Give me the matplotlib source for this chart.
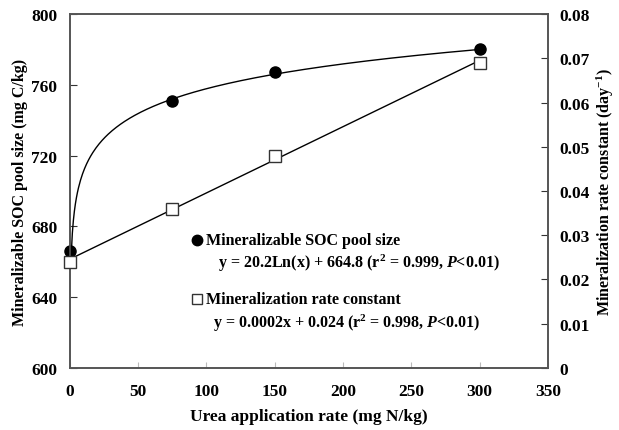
import matplotlib
import matplotlib.pyplot as plt
import numpy as np

matplotlib.use("Agg")

plt.rcParams["font.family"] = ["Liberation Serif", "DejaVu Serif"]
plt.rcParams["font.weight"] = "bold"
plt.rcParams["mathtext.fontset"] = "custom"
plt.rcParams["mathtext.rm"] = "Liberation Serif:bold"
plt.rcParams["mathtext.it"] = "Liberation Serif:italic:bold"
plt.rcParams["mathtext.bf"] = "Liberation Serif:bold"

urea = [0, 75, 150, 300]
soc_pool = [666, 751, 767, 780]
rate_const = [0.024, 0.036, 0.048, 0.069]

# fit coefficients as printed on the chart
log_a, log_b = 20.2, 664.8

fig = plt.figure(figsize=(6.19, 4.31), dpi=100)
ax1 = fig.add_axes([0.113, 0.144, 0.772, 0.821])
ax2 = ax1.twinx()

xs = np.linspace(1, max(urea), 400)
ax1.plot(xs, log_a * np.log(xs) + log_b, "-", color="black", lw=1)
ax1.plot(urea, soc_pool, "o", color="black", ms=8, zorder=5, clip_on=False)

k, c = np.polyfit(urea, rate_const, 1)
xl = np.array([urea[0], urea[-1]])
ax2.plot(xl, k * xl + c, "-", color="black", lw=1)
ax2.plot(urea, rate_const, "s", mfc="white", mec="#333333", mew=1, ms=8, zorder=5, clip_on=False)

ax1.set_xlim(0, 350)
ax1.set_ylim(600, 800)
ax2.set_ylim(0, 0.08)
ax1.set_xticks(np.arange(0, 351, 50))
ax1.set_yticks(np.arange(600, 801, 40))
ax2.set_yticks(np.arange(0, 0.081, 0.01))
ax2.set_yticklabels(["0"] + [f"{v:.2f}" for v in np.arange(0.01, 0.081, 0.01)])

for ax in (ax1, ax2):
    for s in ax.spines.values():
        s.set_color("#555555")
        s.set_linewidth(1.2)
ax1.tick_params(axis="x", direction="in", length=4, color="#bbbbbb", pad=11, labelsize=12.5)
ax1.tick_params(axis="y", direction="in", length=5, color="#333333", pad=9, labelsize=12.5)
ax2.tick_params(axis="y", direction="in", length=5, color="#333333", pad=8, labelsize=12.5)

ax1.set_xlabel("Urea application rate (mg N/kg)", fontsize=12.5, fontweight="bold", labelpad=6)
ax1.set_ylabel("Mineralizable SOC pool size (mg C/kg)", fontsize=11.5, fontweight="bold", labelpad=2)
ax2.set_ylabel("Mineralization rate constant (day$^{-1}$)", fontsize=11.5, fontweight="bold", labelpad=4)

fs = 11.5
ax1.plot([0.266], [0.362], "o", color="black", ms=7.5, transform=ax1.transAxes)
ax1.plot([0.266], [0.195], "s", mfc="white", mec="#333333", mew=1, ms=7.5, transform=ax1.transAxes)
ax1.text(0.285, 0.362, "Mineralizable SOC pool size", transform=ax1.transAxes, fontsize=fs, va="center")
ax1.text(0.31, 0.299, "y = 20.2Ln(x) + 664.8 (r$^2$ = 0.999, $\\mathit{P}$<0.01)", transform=ax1.transAxes, fontsize=fs, va="center")
ax1.text(0.285, 0.195, "Mineralization rate constant", transform=ax1.transAxes, fontsize=fs, va="center")
ax1.text(0.30, 0.130, "y = 0.0002x + 0.024 (r$^2$ = 0.998, $\\mathit{P}$<0.01)", transform=ax1.transAxes, fontsize=fs, va="center")

fig.savefig("out.png", dpi=100)
